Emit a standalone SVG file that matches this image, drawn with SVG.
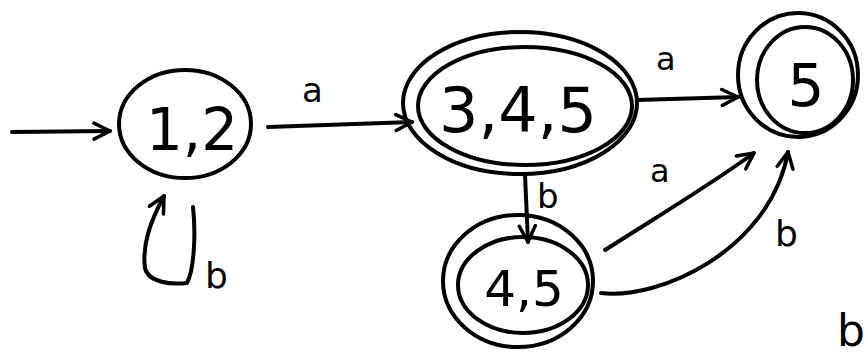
<svg xmlns="http://www.w3.org/2000/svg" width="866" height="360" viewBox="0 0 866 360">
<defs>
<marker id="arr" viewBox="0 0 20 20" refX="18" refY="10" markerWidth="20" markerHeight="20" markerUnits="userSpaceOnUse" orient="auto">
<path d="M2,2 L18,10 L2,18" fill="none" stroke="#000" stroke-width="3.5" stroke-linecap="round" stroke-linejoin="round"/>
</marker>
<style>
.st{fill:none;stroke:#000;stroke-width:4;stroke-linecap:round}
.lbl{font-family:"DejaVu Sans","Liberation Sans",sans-serif;fill:#000}
.big{font-family:"DejaVu Sans","Liberation Sans",sans-serif;fill:#000;text-anchor:middle}
</style>
</defs>
<rect width="866" height="360" fill="#fff"/>
<g id="connectors">
<path class="st" d="M12,132 L110,131" marker-end="url(#arr)"/>
<path class="st" d="M193,207 C196,235 194,270 187,283 C170,285 148,282 145,268 C142,245 150,222 164,196" marker-end="url(#arr)"/>
<path class="st" d="M268,127 L412,122" marker-end="url(#arr)"/>
<path class="st" d="M637,100 L738,97" marker-end="url(#arr)"/>
<path class="st" d="M525,175 L528,242" marker-end="url(#arr)"/>
<path class="st" d="M605,250 C660,215 710,185 754,153" marker-end="url(#arr)"/>
<path class="st" d="M601,293 C660,300 770,250 788,152" marker-end="url(#arr)"/>
</g>
<g id="labels">
<text class="lbl" x="302" y="102" font-size="34">a</text>
<text class="lbl" x="205" y="288" font-size="36">b</text>
<text class="lbl" x="656" y="70" font-size="32">a</text>
<text class="lbl" x="537" y="208" font-size="34">b</text>
<text class="lbl" x="650" y="182" font-size="32">a</text>
<text class="lbl" x="775" y="246" font-size="36">b</text>
<text class="lbl" x="837" y="346" font-size="44">b</text>
</g>
<g id="n12">
<ellipse class="st" cx="185" cy="124" rx="66" ry="54"/>
<text class="big" x="192" y="150" font-size="58">1,2</text>
</g>
<g id="n345">
<ellipse class="st" cx="520" cy="103" rx="117" ry="71"/>
<ellipse class="st" cx="525" cy="106" rx="107" ry="59"/>
<text class="big" x="518" y="132" font-size="62">3,4,5</text>
</g>
<g id="n5">
<ellipse class="st" cx="798" cy="75" rx="60" ry="62"/>
<ellipse class="st" cx="805" cy="80" rx="48" ry="53"/>
<text class="big" x="806" y="106" font-size="58">5</text>
</g>
<g id="n45">
<ellipse class="st" cx="518" cy="281" rx="75" ry="66"/>
<ellipse class="st" cx="523" cy="285" rx="65" ry="48"/>
<text class="big" x="524" y="306" font-size="50">4,5</text>
</g>
</svg>
